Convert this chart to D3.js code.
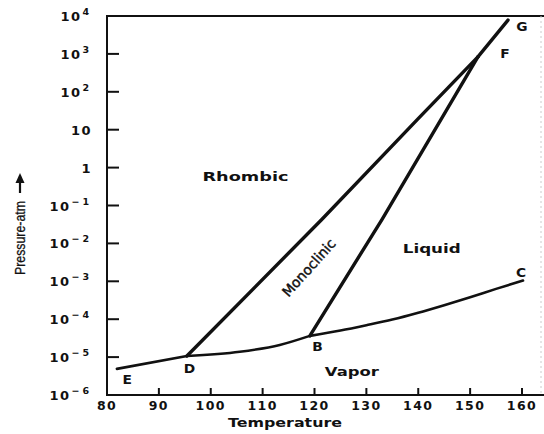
<!DOCTYPE html>
<html>
<head>
<meta charset="utf-8">
<script src="https://cdn.jsdelivr.net/npm/d3@7"></script>
<style>
  body { margin: 0; background: #fff; }
  svg { display: block; }
  text { fill: #111; }
</style>
</head>
<body>
<div id="chart"></div>
<script>
// temperature ticks and pressure decades (exponents of 10)
const TEMP_TICKS = [80, 90, 100, 110, 120, 130, 140, 150, 160];
const PRESSURE_EXPS = [-6, -5, -4, -3, -2, -1, 0, 1, 2, 3, 4];

// phase boundaries, [temperature, log10(pressure atm)]
const sublimRhombic = [[81.9, -5.31], [95.4, -4.97]];
const sublimMono = [[95.4, -4.97], [105.6, -4.86], [113.3, -4.68], [119.1, -4.44]];
const vaporLiquid = [[119.1, -4.44], [125, -4.30], [130, -4.16], [135, -4.01], [140, -3.83],
                     [145, -3.63], [150, -3.42], [155, -3.20], [160.2, -2.98]];
const rhombicMono = [[95.4, -4.97], [121.4, -1.37], [139.9, 1.28], [151.5, 2.92]];
const monoLiquid = [[119.1, -4.44], [133.0, -1.37], [151.5, 2.92]];
const rhombicLiquid = [[151.5, 2.92], [157.3, 3.89]];

// point letters
const pointLabels = [
  {name: "E", t: 83.9, p: -5.58},
  {name: "D", t: 95.9, p: -5.28},
  {name: "B", t: 120.6, p: -4.72},
  {name: "C", t: 159.8, p: -2.75},
  {name: "F", t: 156.7, p: 3.02},
  {name: "G", t: 160.0, p: 3.74}
];
// region names
const regionLabels = [
  {name: "Rhombic", t: 106.7, p: -0.21, w: 86, weight: "bold", size: 12, rot: 0, thick: 0},
  {name: "Liquid", t: 142.6, p: -2.11, w: 58, weight: "bold", size: 12, rot: 0, thick: 0},
  {name: "Vapor", t: 127.2, p: -5.37, w: 54, weight: "bold", size: 12, rot: 0, thick: 0},
  {name: "Monoclinic", t: 118.9, p: -2.64, w: 72, weight: "normal", size: 14, rot: -48, thick: 0.45}
];

var width = 544, height = 434;
var mLeft = 107, mRight = 522, mTop = 16, mBottom = 395;

const x = d3.scaleLinear().domain([80, 160]).range([mLeft, mRight]);
const y = d3.scaleLog().domain([1e-6, 1e4]).range([mBottom, mTop]);

const svg = d3.select("#chart").append("svg")
  .attr("width", width)
  .attr("height", height);

const font = "'DejaVu Sans', sans-serif";

// frame: left axis, top and bottom rules running off to the right edge
svg.append("path")
  .attr("d", `M${width},${mTop}H${mLeft}V${mBottom}H${width}`)
  .attr("fill", "none")
  .attr("stroke", "#111")
  .attr("stroke-width", 2);

// faint edge of the scanned page
svg.append("line")
  .attr("x1", 541).attr("x2", 541).attr("y1", mTop).attr("y2", mBottom)
  .attr("stroke", "#ccc").attr("stroke-width", 1).attr("stroke-dasharray", "2,3");

// y ticks (pointing inward)
svg.selectAll("line.ytick")
  .data(PRESSURE_EXPS.slice(1, -1))
  .join("line")
  .attr("class", "ytick")
  .attr("x1", mLeft).attr("x2", mLeft + 12)
  .attr("y1", d => y(Math.pow(10, d))).attr("y2", d => y(Math.pow(10, d)))
  .attr("stroke", "#111").attr("stroke-width", 2);

// x ticks
svg.selectAll("line.xtick")
  .data(TEMP_TICKS.slice(1))
  .join("line")
  .attr("class", "xtick")
  .attr("x1", d => x(d)).attr("x2", d => x(d))
  .attr("y1", mBottom).attr("y2", mBottom - 7)
  .attr("stroke", "#111").attr("stroke-width", 2);

// y tick labels with superscripts
const yLab = svg.selectAll("text.ylab")
  .data(PRESSURE_EXPS)
  .join("text")
  .attr("class", "ylab")
  .attr("x", 92)
  .attr("y", d => y(Math.pow(10, d)) + 5)
  .attr("text-anchor", "end")
  .attr("font-family", font)
  .attr("font-weight", "bold")
  .attr("font-size", 13)
  .attr("letter-spacing", 1.4);

yLab.each(function(d) {
  const t = d3.select(this);
  if (d === 0) { t.text("1"); return; }
  if (d === 1) { t.text("10"); return; }
  t.append("tspan").text("10");
  t.append("tspan")
    .attr("dy", -6)
    .attr("dx", 1)
    .attr("font-size", 9.5)
    .attr("letter-spacing", 3)
    .text(d < 0 ? "\u2212" + (-d) : String(d));
});

// x tick labels
svg.selectAll("text.xlab")
  .data(TEMP_TICKS)
  .join("text")
  .attr("class", "xlab")
  .attr("x", d => x(d))
  .attr("y", 410)
  .attr("text-anchor", "middle")
  .attr("font-family", font)
  .attr("font-weight", "bold")
  .attr("font-size", 12.5)
  .attr("letter-spacing", 1.4)
  .text(d => d);

// axis titles
svg.append("text")
  .attr("x", 285).attr("y", 427)
  .attr("text-anchor", "middle")
  .attr("font-family", font)
  .attr("font-weight", "bold")
  .attr("font-size", 11.5)
  .attr("textLength", 114)
  .attr("lengthAdjust", "spacingAndGlyphs")
  .text("Temperature");

svg.append("text")
  .attr("transform", "translate(25,238) rotate(-90)")
  .attr("text-anchor", "middle")
  .attr("font-family", "'Liberation Sans', Arial, sans-serif")
  .attr("font-size", 14)
  .attr("stroke", "#111")
  .attr("stroke-width", 0.3)
  .attr("textLength", 74)
  .attr("lengthAdjust", "spacingAndGlyphs")
  .text("Pressure-atm");

// arrow pointing up
svg.append("path")
  .attr("d", "M20,193V180")
  .attr("stroke", "#111").attr("stroke-width", 2.2);
svg.append("path")
  .attr("d", "M20,173L15.5,183L24.5,183Z")
  .attr("fill", "#111");

// phase boundaries
const line = d3.line()
  .x(d => x(d[0]))
  .y(d => y(Math.pow(10, d[1])));

[sublimRhombic, sublimMono, vaporLiquid].forEach(function(seg) {
  svg.append("path")
    .datum(seg)
    .attr("d", line.curve(d3.curveMonotoneX))
    .attr("fill", "none")
    .attr("stroke", "#111")
    .attr("stroke-width", 2.6)
    .attr("stroke-linecap", "round");
});

[rhombicMono, monoLiquid, rhombicLiquid].forEach(function(seg) {
  svg.append("path")
    .datum(seg)
    .attr("d", line.curve(d3.curveLinear))
    .attr("fill", "none")
    .attr("stroke", "#111")
    .attr("stroke-width", 3.4)
    .attr("stroke-linecap", "round")
    .attr("stroke-linejoin", "round");
});

// point letters
svg.selectAll("text.pt")
  .data(pointLabels)
  .join("text")
  .attr("class", "pt")
  .attr("x", d => x(d.t))
  .attr("y", d => y(Math.pow(10, d.p)) + 5)
  .attr("text-anchor", "middle")
  .attr("font-family", font)
  .attr("font-weight", "bold")
  .attr("font-size", 12)
  .attr("transform", d => `translate(${x(d.t)},0) scale(1.15,1) translate(${-x(d.t)},0)`)
  .text(d => d.name);

// region names
svg.selectAll("text.region")
  .data(regionLabels)
  .join("text")
  .attr("class", "region")
  .attr("transform", d => `translate(${x(d.t)},${y(Math.pow(10, d.p))}) rotate(${d.rot})`)
  .attr("y", 5)
  .attr("text-anchor", "middle")
  .attr("font-family", font)
  .attr("font-weight", d => d.weight)
  .attr("font-size", d => d.size)
  .attr("stroke", d => d.thick ? "#111" : "none")
  .attr("stroke-width", d => d.thick)
  .attr("textLength", d => d.w)
  .attr("lengthAdjust", "spacingAndGlyphs")
  .text(d => d.name);
</script>
</body>
</html>
